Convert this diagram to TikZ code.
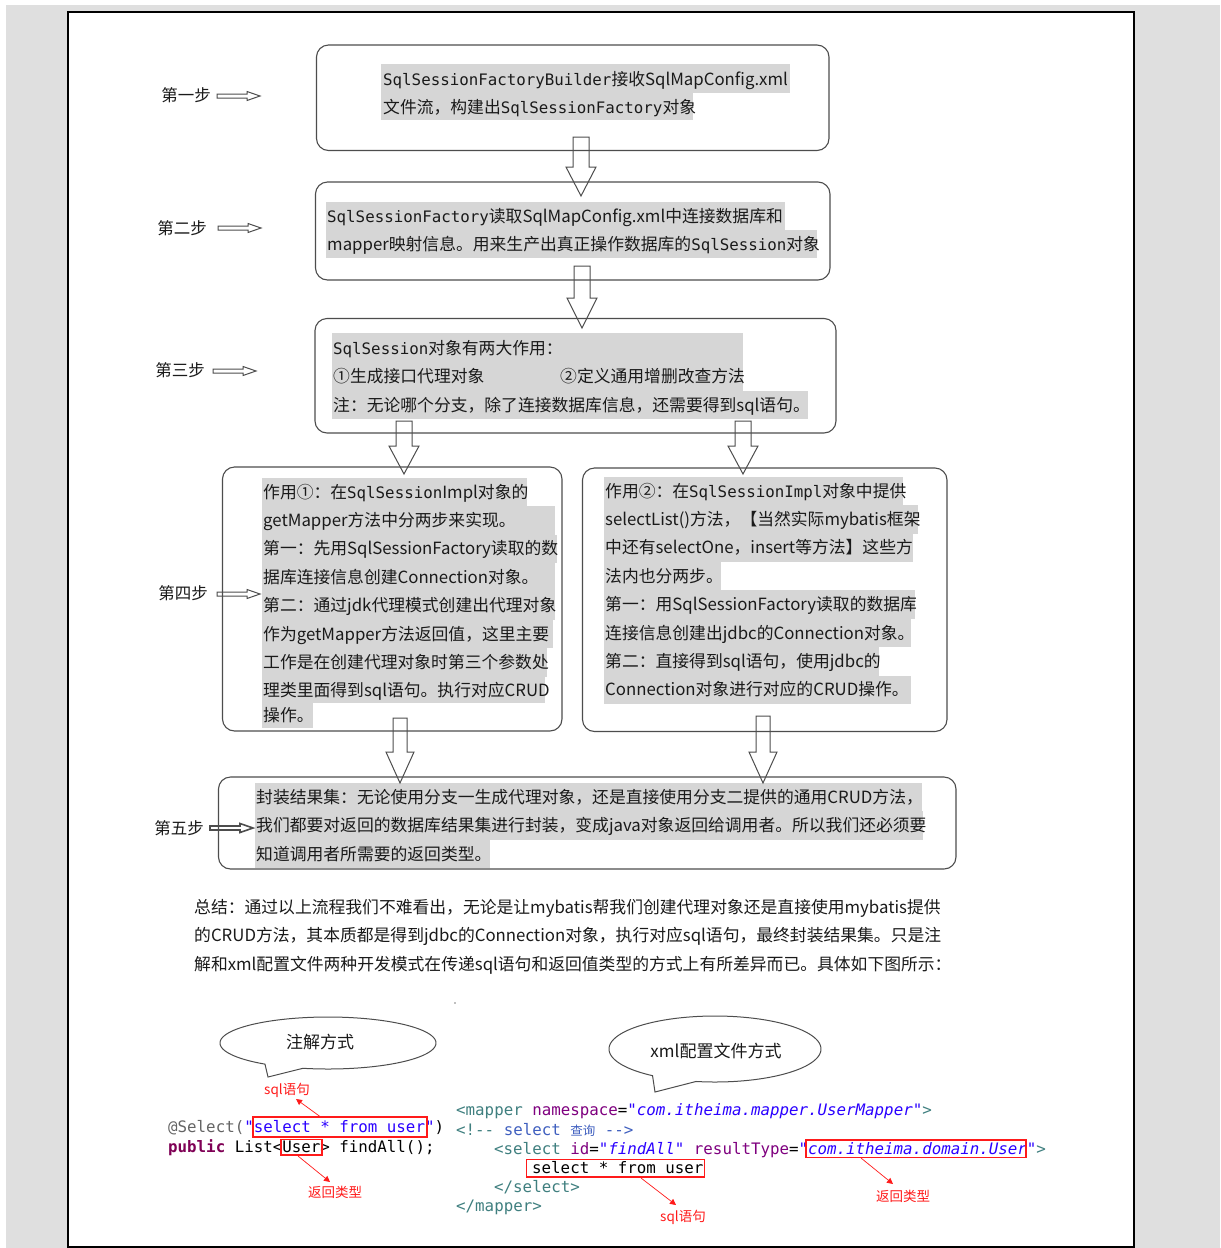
\documentclass[tikz,border=0pt]{standalone}
\usepackage{fontspec}
\setmainfont{Noto Sans CJK SC}
\newfontfamily\cjkf{Noto Sans CJK SC}
\newfontfamily\monof{DejaVu Sans Mono}
\usetikzlibrary{arrows.meta}
\definecolor{hl}{HTML}{D6D6D6}
\definecolor{edgec}{HTML}{4D4D4D}
\definecolor{txt}{HTML}{1A1A1A}
\definecolor{pagegray}{HTML}{DFDFDF}
\definecolor{annc}{HTML}{646464}
\definecolor{strc}{HTML}{2A00FF}
\definecolor{kwc}{HTML}{7F0055}
\definecolor{tagc}{HTML}{3F7F7F}
\definecolor{attc}{HTML}{7F007F}
\definecolor{cmtc}{HTML}{3F5FBF}
\definecolor{redc}{HTML}{FF1A1A}
\newcommand\tsz{\fontsize{16.8}{19}\selectfont}
\newcommand\ms[1]{{\monof\fontsize{15.8}{19}\selectfont #1}}
\newcommand\hlr[4]{\fill[hl] (#1,#2) rectangle (#3,#4);}
\newcommand\vblk[6]{\draw[blk] (#1-#5,#2) -- (#1+#5,#2) -- (#1+#5,#3) -- (#1+#6,#3) -- (#1,#4) -- (#1-#6,#3) -- (#1-#5,#3) -- cycle;}
\newcommand\hblk[3]{\draw[blk,#3] (#1,#2-2) -- (#1+30,#2-2) -- (#1+30,#2-4.5) -- (#1+43,#2) -- (#1+30,#2+4.5) -- (#1+30,#2+2) -- (#1,#2+2) -- cycle;}
\begin{document}
\begin{tikzpicture}[x=1pt,y=-1pt,
  ln/.style={anchor=base west, inner sep=0, font=\tsz, text=txt},
  stepbox/.style={draw=edgec, line width=1.1pt, rounded corners=12pt, inner sep=0},
  blk/.style={draw=edgec, line width=1pt, line join=miter},
  steplbl/.style={font=\fontsize{16.5}{19}\selectfont, text=txt, inner sep=0},
  code/.style={anchor=base west, inner sep=0, font=\monof\fontsize{15.8}{19}\selectfont, text=black},
  redbox/.style={draw=redc, line width=1.6pt, inner sep=0},
  redarr/.style={draw=redc, line width=0.7pt, -{Triangle[length=6pt,width=6pt]}},
  redlbl/.style={text=redc, font=\fontsize{13.5}{15}\selectfont, inner sep=0},
  callout/.style={draw=edgec, line width=1pt},
  calltext/.style={font=\fontsize{17}{20}\selectfont, text=txt, inner sep=0}]

\useasboundingbox (0,0) rectangle (1221,1248);
\fill[white] (0,0) rectangle (1221,1248);
\fill[pagegray] (6,5) rectangle (1220,1248);
\fill[white] (68,12) rectangle (1134,1248);
\draw[black, line width=2.5pt] (68,1248) -- (68,12) -- (1134,12) -- (1134,1248);
\draw[black, line width=2.5pt] (68,1246.8) -- (1134,1246.8);

% ---------- highlights ----------
\hlr{381}{64}{790}{92.5}
\hlr{381}{92.5}{693}{120}
\hlr{326}{202}{785}{230}
\hlr{326}{230}{817}{258}
\hlr{332}{333}{743}{362}
\hlr{332}{362}{743}{390.5}
\hlr{332}{390.5}{808}{419}
\hlr{262}{478}{527}{506.2}
\hlr{262}{506.2}{555}{534.6}
\hlr{262}{534.6}{557}{563}
\hlr{262}{563}{555}{591.4}
\hlr{262}{591.4}{555}{619.8}
\hlr{262}{619.8}{553}{648.2}
\hlr{262}{648.2}{547}{676.6}
\hlr{262}{676.6}{545}{703}
\hlr{262}{703}{313}{728}
\hlr{604}{477}{903}{505.2}
\hlr{604}{505.2}{918}{533.6}
\hlr{604}{533.6}{913}{562}
\hlr{604}{562}{721}{590.4}
\hlr{604}{590.4}{915}{618.8}
\hlr{604}{618.8}{911}{647.2}
\hlr{604}{647.2}{879}{675.6}
\hlr{604}{675.6}{911}{704}
\hlr{255}{783}{922}{811.2}
\hlr{255}{811.2}{923}{839.6}
\hlr{255}{839.6}{490}{868}

% ---------- boxes ----------
\node[stepbox, minimum width=512.5, minimum height=105.5] (box1) at (572.75,97.75) {};
\node[stepbox, minimum width=514.5, minimum height=98] (box2) at (572.75,231) {};
\node[stepbox, minimum width=521, minimum height=114.5] (box3) at (575.5,375.75) {};
\node[stepbox, minimum width=339.5, minimum height=264] (box4l) at (392.25,599) {};
\node[stepbox, minimum width=364.5, minimum height=263.5] (box4r) at (764.75,599.75) {};
\node[stepbox, minimum width=737.5, minimum height=92] (box5) at (587.25,823) {};

% ---------- block arrows ----------
\vblk{581}{137}{167}{196}{8}{15}
\vblk{582}{266}{298}{328}{8}{15}
\vblk{404}{421}{446}{474}{8}{15}
\vblk{743}{421}{446}{474}{8}{15}
\vblk{400}{718}{752}{783}{7}{14}
\vblk{763}{716}{752}{783}{7}{14}

% ---------- step labels ----------
\node[steplbl] (s1) at (186,95) {第一步};
\node[steplbl] (s2) at (182,228) {第二步};
\node[steplbl] (s3) at (180,370) {第三步};
\node[steplbl] (s4) at (183,593) {第四步};
\node[steplbl] (s5) at (179,828) {第五步};
\hblk{217}{96}{}
\hblk{218}{228}{}
\hblk{213}{371}{}
\hblk{217}{594}{}
\hblk{210}{828}{line width=1.6pt}

% ---------- box texts ----------
\node[ln] (t11) at (383,85) {\ms{SqlSessionFactoryBuilder}接收SqlMapConfig.xml};
\node[ln] (t12) at (383,113) {文件流，构建出\ms{SqlSessionFactory}对象};

\node[ln] (t21) at (327,222) {\ms{SqlSessionFactory}读取SqlMapConfig.xml中连接数据库和};
\node[ln] (t22) at (327,250) {mapper映射信息。用来生产出真正操作数据库的\ms{SqlSession}对象};

\node[ln] (t31) at (333,354) {\ms{SqlSession}对象有两大作用：};
\node[ln] (t32a) at (333,382.5) {①生成接口代理对象};
\node[ln] (t32b) at (560,382.5) {②定义通用增删改查方法};
\node[ln] (t33) at (333,411) {注：无论哪个分支，除了连接数据库信息，还需要得到sql语句。};

\node[ln] (l1) at (263,498) {作用①：在\ms{SqlSession}Impl对象的};
\node[ln] (l2) at (263,526.4) {getMapper方法中分两步来实现。};
\node[ln] (l3) at (263,554.8) {第一：先用SqlSessionFactory读取的数};
\node[ln] (l4) at (263,583.2) {据库连接信息创建Connection对象。};
\node[ln] (l5) at (263,611.6) {第二：通过jdk代理模式创建出代理对象};
\node[ln] (l6) at (263,640) {作为getMapper方法返回值，这里主要};
\node[ln] (l7) at (263,668.4) {工作是在创建代理对象时第三个参数处};
\node[ln] (l8) at (263,696.8) {理类里面得到sql语句。执行对应CRUD};
\node[ln] (l9) at (263,721) {操作。};

\node[ln] (r1) at (605,497) {作用②：在\ms{SqlSessionImpl}对象中提供};
\node[ln] (r2) at (605,525.4) {selectList()方法，【当然实际mybatis框架};
\node[ln] (r3) at (605,553.8) {中还有selectOne，insert等方法】这些方};
\node[ln] (r4) at (605,582.2) {法内也分两步。};
\node[ln] (r5) at (605,610.6) {第一：用SqlSessionFactory读取的数据库};
\node[ln] (r6) at (605,639) {连接信息创建出jdbc的Connection对象。};
\node[ln] (r7) at (605,667.4) {第二：直接得到sql语句，使用jdbc的};
\node[ln] (r8) at (605,695.8) {Connection对象进行对应的CRUD操作。};

\node[ln] (f1) at (256,803) {封装结果集：无论使用分支一生成代理对象，还是直接使用分支二提供的通用CRUD方法，};
\node[ln] (f2) at (256,831.4) {我们都要对返回的数据库结果集进行封装，变成java对象返回给调用者。所以我们还必须要};
\node[ln] (f3) at (256,860) {知道调用者所需要的返回类型。};

% ---------- summary ----------
\node[ln] (m1) at (194,913) {总结：通过以上流程我们不难看出，无论是让mybatis帮我们创建代理对象还是直接使用mybatis提供};
\node[ln] (m2) at (194,941.5) {的CRUD方法，其本质都是得到jdbc的Connection对象，执行对应sql语句，最终封装结果集。只是注};
\node[ln] (m3) at (194,970) {解和xml配置文件两种开发模式在传递sql语句和返回值类型的方式上有所差异而已。具体如下图所示：};

\fill[gray] (455,1003) circle (0.8);

% ---------- callouts ----------
\draw[callout] plot[domain=125.7:463.4, samples=160] ({328+108*cos(\x)},{1043+26*sin(\x)}) -- (268,1077) -- cycle;
\node[calltext] (cl1) at (320,1042) {注解方式};
\draw[callout] plot[domain=126.1:460.3, samples=160] ({715+106*cos(\x)},{1049+33*sin(\x)}) -- (655,1092) -- cycle;
\node[calltext] (cl2) at (716,1051) {xml配置文件方式};

% ---------- left code ----------
\node[code] (cd1) at (168,1132.5) {\textcolor{annc}{@Select(}\textcolor{strc}{"select * from user"})};
\node[code] (cd2) at (168,1152) {\textcolor{kwc}{\bfseries public} List<User> findAll();};
\node[redbox, minimum width=174, minimum height=20] (rb1) at (340,1127) {};
\node[redbox, minimum width=41, minimum height=15.5] (rb2) at (301.5,1147.25) {};

% ---------- right code ----------
\node[code] (x1) at (456,1115.5) {\textcolor{tagc}{<mapper} \textcolor{attc}{namespace}=\textcolor{strc}{\itshape "com.itheima.mapper.UserMapper"}\textcolor{tagc}{>}};
\node[code] (x2) at (456,1135) {\textcolor{tagc}{<!-{}-} \textcolor{cmtc}{select} {\color{cmtc}\cjkf\fontsize{12.5}{15}\selectfont 查询} \textcolor{cmtc}{-{}->}};
\node[code] (x3) at (494,1154) {\textcolor{tagc}{<select} \textcolor{attc}{id}=\textcolor{strc}{\itshape "findAll"} \textcolor{attc}{resultType}=\textcolor{strc}{\itshape "com.itheima.domain.User"}\textcolor{tagc}{>}};
\node[code] (x4) at (532,1173) {select * from user};
\node[code] (x5) at (494,1192) {\textcolor{tagc}{</select>}};
\node[code] (x6) at (456,1211.5) {\textcolor{tagc}{</mapper>}};
\node[redbox, minimum width=220, minimum height=17.5] (rb3) at (916,1148.75) {};
\node[redbox, minimum width=178, minimum height=17.4] (rb4) at (615.6,1168) {};

% ---------- red annotations ----------
\node[redlbl] (a1) at (287,1090) {sql语句};
\node[redlbl] (a2) at (335,1192) {返回类型};
\node[redlbl] (a3) at (683,1217) {sql语句};
\node[redlbl] (a4) at (903,1196) {返回类型};
\coordinate (p1) at (320,1116.5);
\coordinate (q1) at (296,1099);
\coordinate (p2) at (298,1156);
\coordinate (q2) at (330,1182);
\coordinate (p3) at (641,1178);
\coordinate (q3) at (676,1205);
\coordinate (p4) at (861,1158);
\coordinate (q4) at (893,1184);
\draw[redarr] (p1) -- (q1);
\draw[redarr] (p2) -- (q2);
\draw[redarr] (p3) -- (q3);
\draw[redarr] (p4) -- (q4);
\end{tikzpicture}
\end{document}
